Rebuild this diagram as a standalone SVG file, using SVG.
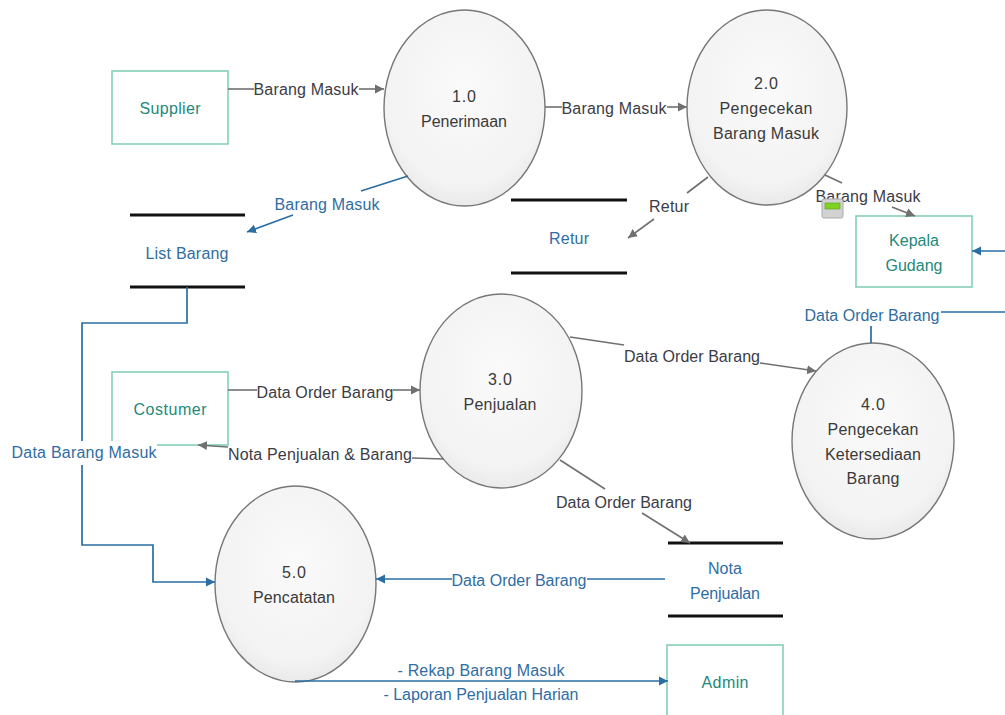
<svg xmlns="http://www.w3.org/2000/svg" width="1005" height="715" viewBox="0 0 1005 715">
<style>
text{font-family:"Liberation Sans",Arial,sans-serif;font-size:16px;text-anchor:middle}
.ent{fill:#fff;stroke:#86cfb8;stroke-width:1.6}
.entt{fill:#23897a}
.proc{fill:url(#g);stroke:#777;stroke-width:1.4}
.proct{fill:#3a3a3a}
.bar{stroke:#111;stroke-width:3.2;fill:none}
.gl{fill:none;stroke:#707070;stroke-width:1.6}
.bl{fill:none;stroke:#2a6ea3;stroke-width:1.7}
.gt{fill:#3c3c46}
.bt{fill:#2f6da3}
</style>
<defs>
<radialGradient id="g" cx="50%" cy="40%" r="62%"><stop offset="0" stop-color="#fafafa"/><stop offset="0.8" stop-color="#f3f3f3"/><stop offset="1" stop-color="#e8e8e8"/></radialGradient>
<marker id="ag" markerUnits="userSpaceOnUse" markerWidth="10" markerHeight="10" refX="9" refY="5" orient="auto"><path d="M0 0.5L9 5L0 9.5z" fill="#707070"/></marker>
<marker id="ab" markerUnits="userSpaceOnUse" markerWidth="10" markerHeight="10" refX="9" refY="5" orient="auto"><path d="M0 0.5L9 5L0 9.5z" fill="#2a6ea3"/></marker>
</defs>
<rect width="1005" height="715" fill="#fff"/>

<g id="n-supplier"><rect class="ent" x="112" y="71" width="116" height="73"/><text class="entt" x="170" y="114" textLength="61">Supplier</text></g>
<g id="n-costumer"><rect class="ent" x="112" y="372" width="116" height="73"/><text class="entt" x="170" y="415" textLength="73">Costumer</text></g>
<g id="n-kepala"><rect class="ent" x="856" y="216" width="116" height="71"/><text class="entt" x="914" y="246" textLength="50">Kepala</text><text class="entt" x="914" y="271" textLength="57">Gudang</text></g>
<g id="n-admin"><rect class="ent" x="667" y="645" width="116" height="74"/><text class="entt" x="725" y="688" textLength="47">Admin</text></g>

<g id="n-1"><ellipse class="proc" cx="464.500" cy="108" rx="80.500" ry="98"/><text class="proct" x="464" y="102" textLength="24">1.0</text><text class="proct" x="464" y="127" textLength="86">Penerimaan</text></g>
<g id="n-2"><ellipse class="proc" cx="767" cy="107.500" rx="80" ry="97.500"/><text class="proct" x="766" y="89" textLength="24">2.0</text><text class="proct" x="766" y="114" textLength="93">Pengecekan</text><text class="proct" x="766" y="139" textLength="106">Barang Masuk</text></g>
<g id="n-3"><ellipse class="proc" cx="501" cy="391" rx="81" ry="97"/><text class="proct" x="500" y="385" textLength="24">3.0</text><text class="proct" x="500" y="410" textLength="73">Penjualan</text></g>
<g id="n-4"><ellipse class="proc" cx="873" cy="441" rx="81" ry="98"/><text class="proct" x="873" y="410" textLength="24">4.0</text><text class="proct" x="873" y="435" textLength="91">Pengecekan</text><text class="proct" x="873" y="460" textLength="96">Ketersediaan</text><text class="proct" x="873" y="484" textLength="53">Barang</text></g>
<g id="n-5"><ellipse class="proc" cx="295.500" cy="584" rx="80.500" ry="98"/><text class="proct" x="294" y="578" textLength="24">5.0</text><text class="proct" x="294" y="603" textLength="82">Pencatatan</text></g>

<g id="n-list"><path class="bar" d="M130 215H245M130 287H245"/><text class="bt" x="187" y="259" textLength="83">List Barang</text></g>
<g id="n-retur"><path class="bar" d="M511 200H627M511 273H627"/><text class="bt" x="569" y="244" textLength="40">Retur</text></g>
<g id="n-nota"><path class="bar" d="M668 543H783M668 616H783"/><text class="bt" x="725" y="574" textLength="34">Nota</text><text class="bt" x="725" y="599" textLength="70">Penjualan</text></g>

<g id="connectors">
<path class="gl" d="M228 89H254"/><path class="gl" d="M359 89H384" marker-end="url(#ag)"/>
<path class="gl" d="M545 107H562"/><path class="gl" d="M667 107H687" marker-end="url(#ag)"/>
<path class="gl" d="M825 175L842 183"/><path class="gl" d="M892 207L915 216" marker-end="url(#ag)"/>
<path class="gl" d="M708 177L687 193"/><path class="gl" d="M654 219L628 238" marker-end="url(#ag)"/>
<path class="bl" d="M408 176L361 191"/><path class="bl" d="M293 215L247 232" marker-end="url(#ab)"/>
<path class="bl" d="M187 287V323H82V545H153V582H215" marker-end="url(#ab)"/>
<path class="bl" d="M1005 251H972" marker-end="url(#ab)"/>
<path class="bl" d="M1005 312H941M871 343V326"/>
<path class="gl" d="M570 337L624 345"/><path class="gl" d="M760 363L816 371" marker-end="url(#ag)"/>
<path class="gl" d="M228 390H257"/><path class="gl" d="M393 390H420" marker-end="url(#ag)"/>
<path class="gl" d="M444 459L412 458"/><path class="gl" d="M228 447L198 445" marker-end="url(#ag)"/>
<path class="gl" d="M560 460L605 489"/><path class="gl" d="M642 513L690 543" marker-end="url(#ag)"/>
<path class="bl" d="M665 579H587"/><path class="bl" d="M452 579H376" marker-end="url(#ab)"/>
<path class="bl" d="M295 681H668" marker-end="url(#ab)"/>
<rect x="12" y="441" width="145" height="24" fill="#fff"/>
<text class="gt" x="306" y="95" textLength="105">Barang Masuk</text>
<text class="gt" x="614" y="114" textLength="105">Barang Masuk</text>
<text class="gt" x="868" y="202" textLength="105">Barang Masuk</text>
<text class="gt" x="669" y="212" textLength="40">Retur</text>
<text class="bt" x="327" y="210" textLength="105">Barang Masuk</text>
<text class="bt" x="84" y="458" textLength="145">Data Barang Masuk</text>
<text class="bt" x="872" y="321" textLength="135">Data Order Barang</text>
<text class="gt" x="692" y="362" textLength="136">Data Order Barang</text>
<text class="gt" x="325" y="398" textLength="137">Data Order Barang</text>
<text class="gt" x="320" y="460" textLength="184">Nota Penjualan &amp; Barang</text>
<text class="gt" x="624" y="508" textLength="136">Data Order Barang</text>
<text class="bt" x="519" y="586" textLength="135">Data Order Barang</text>
<text class="bt" x="481" y="676" textLength="167">- Rekap Barang Masuk</text>
<text class="bt" x="481" y="700" textLength="195">- Laporan Penjualan Harian</text>
</g>
<g id="icon"><rect x="822" y="199" width="21" height="19" rx="2" fill="#d2d2d2" stroke="#aaa"/><rect x="825" y="203" width="15" height="6" fill="#7ed321" stroke="#5a9e18" stroke-width="0.6"/></g>
</svg>
